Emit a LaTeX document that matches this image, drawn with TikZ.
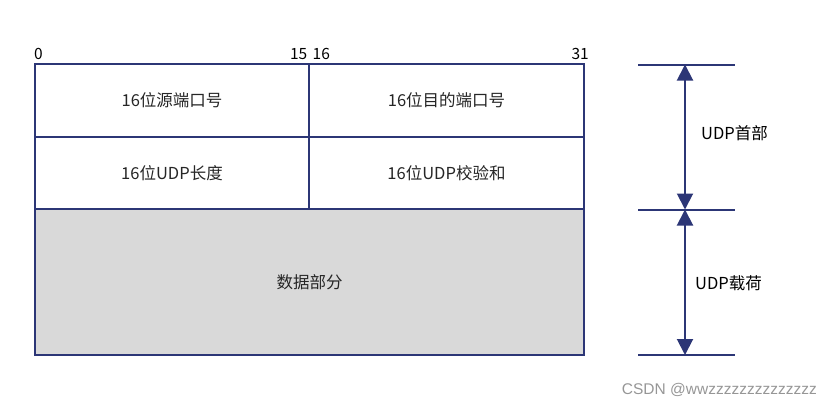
\documentclass[tikz,border=0pt]{standalone}
\usepackage{fontspec}
\setmainfont{Noto Sans CJK SC}
\newfontfamily\wmfont{Liberation Sans}
\usetikzlibrary{arrows.meta}
\definecolor{navy}{RGB}{44,54,118}
\definecolor{txt}{RGB}{38,38,38}
\definecolor{datagray}{RGB}{217,217,217}
\definecolor{wm}{RGB}{150,150,150}
\tikzset{
  cell/.style={draw=navy, line width=2pt, inner sep=0pt, outer sep=0pt, text=txt,
    font=\fontsize{16.5}{19}\selectfont},
  bitlabel/.style={inner sep=0pt, text=black, font=\fontsize{15.5}{18}\selectfont},
  sidelabel/.style={inner sep=0pt, text=black, font=\fontsize{16.5}{19}\selectfont},
  guide/.style={draw=navy, line width=2pt},
  dim/.style={draw=navy, line width=2pt, {Triangle[width=16pt,length=16pt]}-{Triangle[width=16pt,length=16pt]}},
}
\begin{document}
\begin{tikzpicture}[x=1pt,y=-1pt]
\useasboundingbox (0,0) rectangle (831,408);
% table cells
\node[cell, fill=datagray, minimum width=549pt, minimum height=146pt] (data) at (309.5,282) {数据部分};
\node[cell, fill=white, minimum width=274pt, minimum height=72.5pt] (src) at (172,100.25) {16位源端口号};
\node[cell, fill=white, minimum width=275pt, minimum height=72.5pt] (dst) at (446.5,100.25) {16位目的端口号};
\node[cell, fill=white, minimum width=274pt, minimum height=72.5pt] (len) at (172,172.75) {16位UDP长度};
\node[cell, fill=white, minimum width=275pt, minimum height=72.5pt] (chk) at (446.5,172.75) {16位UDP校验和};
% bit labels
\node[bitlabel, anchor=base west] (b0) at (34,59.5) {0};
\node[bitlabel, anchor=base east] (b15) at (307.5,59.5) {15};
\node[bitlabel, anchor=base west] (b16) at (312.5,59.5) {16};
\node[bitlabel, anchor=base east] (b31) at (589,59.5) {31};
% right-side dimension lines
\coordinate (t1) at (638,64.5);
\coordinate (t2) at (735,64.5);
\coordinate (m1) at (638,209.5);
\coordinate (m2) at (735,209.5);
\coordinate (u1) at (638,355);
\coordinate (u2) at (735,355);
\coordinate (at) at (685,64.5);
\coordinate (am) at (685,209.5);
\coordinate (ab) at (685,355);
\draw[guide] (t1) -- (t2);
\draw[guide] (m1) -- (m2);
\draw[guide] (u1) -- (u2);
\draw[dim] (at) -- (am);
\draw[dim] (am) -- (ab);
\node[sidelabel] (hdr) at (734.5,133) {UDP首部};
\node[sidelabel] (pay) at (728.5,283) {UDP载荷};
% watermark
\node[anchor=east, inner sep=0pt, text=wm, font=\wmfont\fontsize{15.5}{18}\selectfont] (wmk) at (817,390) {CSDN @wwzzzzzzzzzzzzzz};
\end{tikzpicture}
\end{document}
